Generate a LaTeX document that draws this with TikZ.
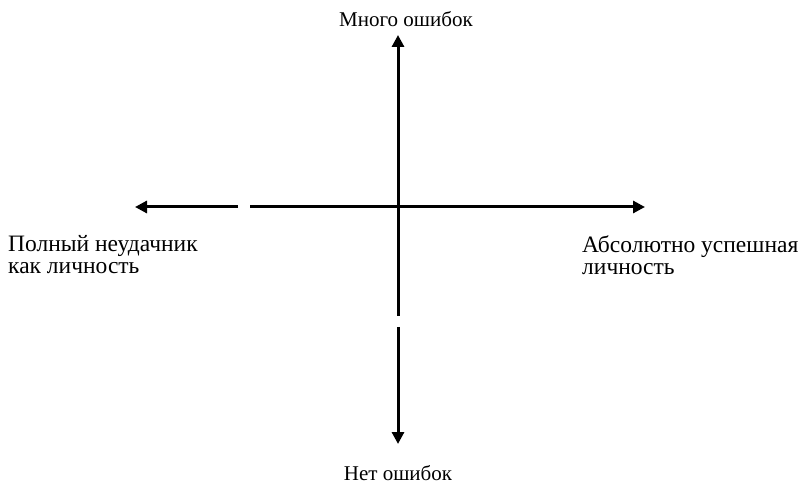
\documentclass[tikz,border=0pt]{standalone}
\usepackage{fontspec}
\setmainfont{Liberation Serif}
\usetikzlibrary{arrows.meta}
\begin{document}
\begin{tikzpicture}[x=1pt,y=-1pt,
  axis/.style={line width=3pt,line cap=butt},
  tip/.style={-{Triangle[length=12pt,width=12pt]}},
  lbl/.style={inner sep=0pt,font=\fontsize{21}{22}\selectfont},
  side/.style={inner sep=0pt,font=\fontsize{23.5}{22}\selectfont,align=left}]
\useasboundingbox (0,0) rectangle (801,486);
\coordinate (top) at (398,35);
\coordinate (vgapA) at (398,316);
\coordinate (vgapB) at (398,327);
\coordinate (bot) at (398,444);
\coordinate (left) at (135,207);
\coordinate (hgapA) at (238,207);
\coordinate (hgapB) at (250,207);
\coordinate (right) at (645,207);
\draw[axis,tip] (vgapA) -- (top);
\draw[axis,tip] (vgapB) -- (bot);
\draw[axis,tip] (hgapA) -- (left);
\draw[axis,tip] (hgapB) -- (right);
\node[lbl,anchor=base] (many) at (406,27) {Много ошибок};
\node[lbl,anchor=base] (none) at (398,480) {Нет ошибок};
\node[side,anchor=base west] (loser) at (8,274) {Полный неудачник\\как личность};
\node[side,anchor=base west] (success) at (582,275) {Абсолютно успешная\\личность};
\end{tikzpicture}
\end{document}
